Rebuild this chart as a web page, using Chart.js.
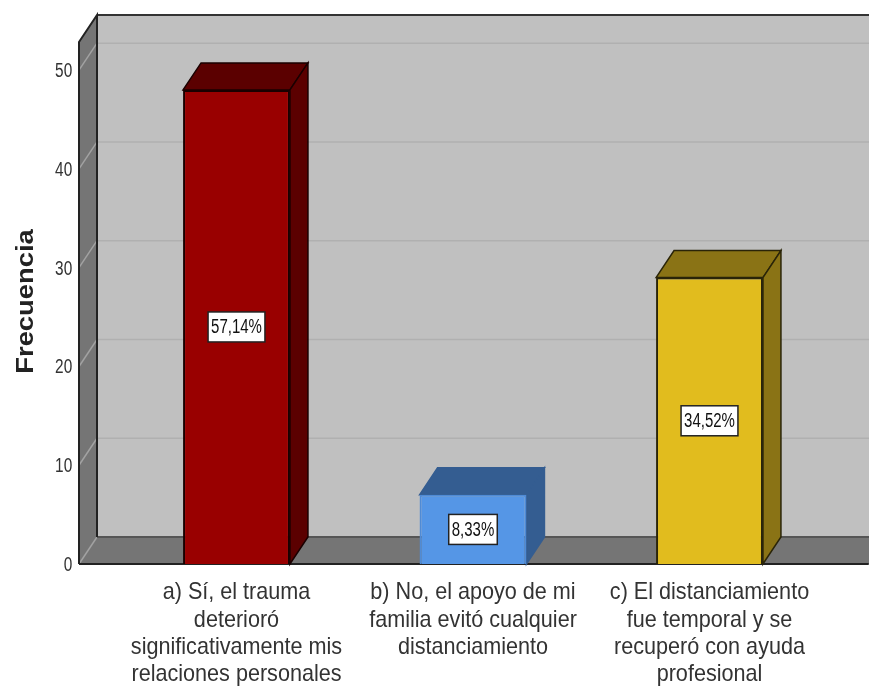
<!DOCTYPE html>
<html><head><meta charset="utf-8">
<style>html,body{margin:0;padding:0;background:#fff}#w{width:869px;height:686px;position:relative}</style>
<script src="https://cdn.jsdelivr.net/npm/chart.js@4"></script>
</head><body><div id="w"><canvas id="c"></canvas></div>
<script>
const categories = [
  ["a) Sí, el trauma","deterioró","significativamente mis","relaciones personales"],
  ["b) No, el apoyo de mi","familia evitó cualquier","distanciamiento"],
  ["c) El distanciamiento","fue temporal y se","recuperó con ayuda","profesional"]
];
const frecuencia = [48, 7, 29];
const percentLabels = ["57,14%", "8,33%", "34,52%"];
const frontColors = ["#990000", "#5596e6", "#e1bc1e"];
const edgeColors = ["#1a0000", "#4f8bd6", "#2a2408"];
const sideColors = ["#5b0000", "#345d91", "#8a7315"];
const sideEdgeColors = ["#1a0000", "#345d91", "#2a2408"];
const yTicks = [0, 10, 20, 30, 40, 50];
const yMax = 52.85;
const depthX = 18, depthY = 27, wallLeftGap = 39.25, wallRightGap = 41;
const FONT = '"Liberation Sans", Arial, sans-serif';

function poly(ctx, pts, fill, stroke, lw) {
  ctx.beginPath();
  pts.forEach((p, i) => i ? ctx.lineTo(p[0], p[1]) : ctx.moveTo(p[0], p[1]));
  ctx.closePath();
  if (fill) { ctx.fillStyle = fill; ctx.fill(); }
  if (stroke) { ctx.strokeStyle = stroke; ctx.lineWidth = lw || 1.5; ctx.stroke(); }
}
// Tick labels keep coming from the scale; they are only drawn horizontally condensed.
function condensedLabels(sx, dy) {
  return function (chartArea) {
    const ctx = this.ctx;
    for (const item of this.getLabelItems(chartArea)) {
      const o = item.options;
      const lines = Array.isArray(item.label) ? item.label : [item.label];
      ctx.save();
      ctx.translate(o.translation[0], o.translation[1] + dy);
      ctx.scale(sx, 1);
      ctx.font = item.font.string;
      ctx.fillStyle = o.color;
      ctx.textAlign = o.textAlign;
      ctx.textBaseline = o.textBaseline;
      let yy = item.textOffset;
      lines.forEach(l => { ctx.fillText(l, 0, yy); yy += item.font.lineHeight; });
      ctx.restore();
    }
  };
}
function stretchedTitle() {
  const ctx = this.ctx, t = this.options.title;
  ctx.save();
  ctx.translate(33, (this.top + this.bottom) / 2 - 1.5);
  ctx.rotate(-Math.PI / 2);
  ctx.scale(1.14, 1);
  ctx.font = 'bold 24px ' + FONT;
  ctx.fillStyle = t.color;
  ctx.textAlign = 'center';
  ctx.textBaseline = 'alphabetic';
  ctx.fillText(t.text, 0, 0);
  ctx.restore();
}
const box3d = {
  id: 'box3d',
  beforeDatasetsDraw(chart) {
    const { ctx, scales: { x, y } } = chart;
    const L = x.left - wallLeftGap, R = x.right + wallRightGap, T = y.top, B = y.bottom;
    ctx.save();
    poly(ctx, [[L+depthX,T-depthY],[R+5,T-depthY],[R+5,B-depthY],[L+depthX,B-depthY]], '#c0c0c0');
    poly(ctx, [[L,T],[L+depthX,T-depthY],[L+depthX,B-depthY],[L,B]], '#757575');
    poly(ctx, [[L,B],[L+depthX,B-depthY],[R+5,B-depthY],[R,B]], '#757575');
    yTicks.forEach(v => {
      const py = y.getPixelForValue(v);
      ctx.lineWidth = 1.5;
      ctx.strokeStyle = '#a2a2a2';
      ctx.beginPath(); ctx.moveTo(L, py); ctx.lineTo(L+depthX, py-depthY); ctx.stroke();
      if (v > 0) {
        ctx.strokeStyle = '#b0b0b0';
        ctx.beginPath(); ctx.moveTo(L+depthX, py-depthY); ctx.lineTo(R+5, py-depthY); ctx.stroke();
      }
    });
    ctx.strokeStyle = '#555'; ctx.lineWidth = 2;
    ctx.beginPath(); ctx.moveTo(L+depthX, B-depthY); ctx.lineTo(R+5, B-depthY); ctx.stroke();
    ctx.strokeStyle = '#333'; ctx.lineWidth = 2;
    ctx.beginPath(); ctx.moveTo(L+depthX, T-depthY); ctx.lineTo(R+5, T-depthY); ctx.stroke();
    ctx.strokeStyle = '#222'; ctx.lineWidth = 2;
    ctx.beginPath(); ctx.moveTo(L, B); ctx.lineTo(L, T); ctx.lineTo(L+depthX, T-depthY); ctx.lineTo(L+depthX, B-depthY); ctx.stroke();
    ctx.beginPath(); ctx.moveTo(L, B); ctx.lineTo(R, B); ctx.stroke();
    chart.getDatasetMeta(0).data.forEach((bar, i) => {
      const hw = bar.width / 2, l = bar.x - hw, r = bar.x + hw, t = bar.y, b = bar.base;
      poly(ctx, [[l,t],[l+depthX,t-depthY],[r+depthX,t-depthY],[r,t]], sideColors[i], sideEdgeColors[i], 1.5);
      poly(ctx, [[r,t],[r+depthX,t-depthY],[r+depthX,b-depthY],[r,b]], sideColors[i], sideEdgeColors[i], 1.5);
    });
    ctx.restore();
  },
  afterDatasetsDraw(chart) {
    const { ctx } = chart;
    const sx = 0.75;
    chart.getDatasetMeta(0).data.forEach((bar, i) => {
      ctx.save();
      ctx.font = '20px ' + FONT;
      ctx.textAlign = 'center'; ctx.textBaseline = 'middle';
      const cy = (bar.y + bar.base) / 2, w = ctx.measureText(percentLabels[i]).width * sx + 6, h = 30;
      ctx.fillStyle = '#fff'; ctx.fillRect(bar.x - w/2, cy - h/2, w, h);
      ctx.strokeStyle = '#222'; ctx.lineWidth = 1.5; ctx.strokeRect(bar.x - w/2, cy - h/2, w, h);
      ctx.translate(bar.x, cy + 1);
      ctx.scale(sx, 1);
      ctx.fillStyle = '#111'; ctx.fillText(percentLabels[i], 0, 0);
      ctx.restore();
    });
  }
};
new Chart(document.getElementById('c'), {
  type: 'bar',
  plugins: [box3d],
  data: {
    labels: categories,
    datasets: [{
      label: 'Frecuencia',
      data: frecuencia,
      backgroundColor: frontColors,
      borderColor: edgeColors,
      borderWidth: 2,
      barPercentage: 0.452,
      categoryPercentage: 1
    }]
  },
  options: {
    responsive: true, maintainAspectRatio: false, animation: false,
    layout: { padding: { left: 10, right: 41.25, top: 42, bottom: 0 } },
    plugins: { legend: { display: false }, tooltip: { enabled: false } },
    scales: {
      x: {
        offset: true,
        grid: { display: false, drawTicks: false },
        border: { display: false },
        afterFit(s) { s.height = 122; s.paddingLeft = 0; s.paddingRight = 0; s.drawLabels = condensedLabels(0.9, 0); },
        ticks: {
          autoSkip: false, maxRotation: 0, minRotation: 0, padding: 15,
          color: '#333',
          font: { family: FONT, size: 24, lineHeight: 1.14 }
        }
      },
      y: {
        min: 0, max: yMax,
        grid: { display: false, drawTicks: false },
        border: { display: false },
        afterFit(s) { s.width = 108.25; s.paddingTop = 0; s.paddingBottom = 0; s.drawLabels = condensedLabels(0.77, 1.5); s.drawTitle = stretchedTitle; },
        title: {
          display: true, text: 'Frecuencia', color: '#222', padding: { top: 0, bottom: 0 },
          font: { family: FONT, size: 24, weight: 'bold' }
        },
        ticks: {
          stepSize: 10, includeBounds: false, padding: 46, color: '#333',
          font: { family: FONT, size: 20 }
        }
      }
    }
  }
});
</script></body></html>
